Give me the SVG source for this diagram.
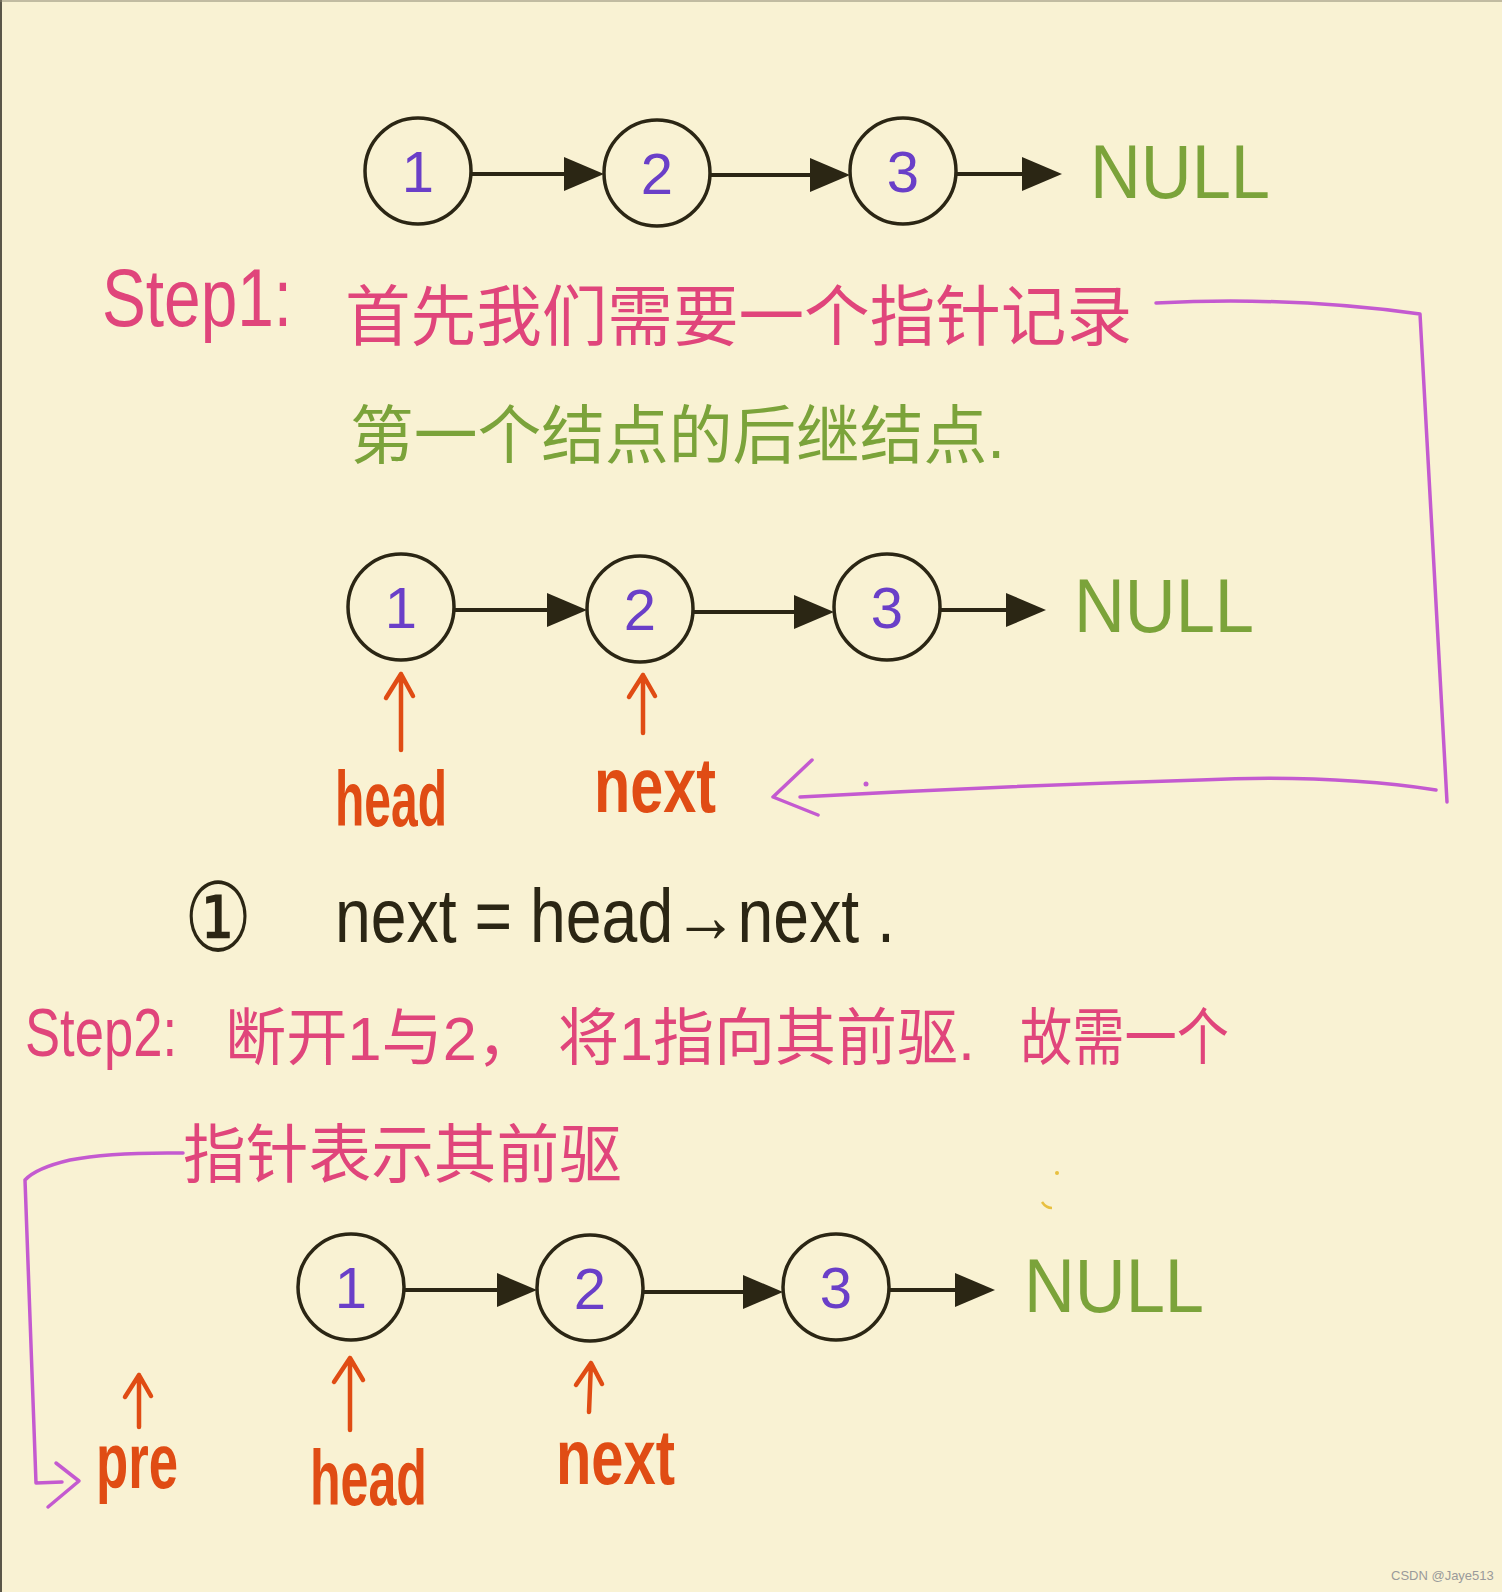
<svg xmlns="http://www.w3.org/2000/svg" width="1502" height="1592" viewBox="0 0 1502 1592">
<style>
.node{fill:none;stroke:#2b2614;stroke-width:3.5}
.num{font-family:"Liberation Sans",sans-serif;font-size:58px;fill:#6a3fc8;text-anchor:middle}
.null{font-family:"Liberation Sans",sans-serif;font-size:76px;fill:#7ba33a}
.link{stroke:#2b2614;stroke-width:4;fill:none}
.ptr{stroke:#e04c14;stroke-width:4.5;fill:none;stroke-linecap:round;stroke-linejoin:round}
.lbl{font-family:"Liberation Sans",sans-serif;font-size:78px;fill:#e04c14;font-weight:bold}
.pink{font-family:"Liberation Sans","Noto Sans CJK SC",sans-serif;fill:#e0457b}
.green{font-family:"Liberation Sans","Noto Sans CJK SC",sans-serif;fill:#7ba33a}
.blk{font-family:"Liberation Sans",sans-serif;fill:#2b2614}
.mag{stroke:#c45ad0;stroke-width:3.5;fill:none;stroke-linecap:round;stroke-linejoin:round}
</style>
<defs>
<marker id="tri" markerUnits="userSpaceOnUse" viewBox="0 0 40 34" markerWidth="40" markerHeight="34" refX="20" refY="17" orient="auto">
<path d="M0,0 L40,17 L0,34 z" fill="#2b2614"/>
</marker>
</defs>
<rect width="1502" height="1592" fill="#f9f2d3"/>
<line x1="1" y1="0" x2="1" y2="1592" stroke="#5a5648" stroke-width="2"/>
<line x1="0" y1="1" x2="1502" y2="1" stroke="#8a8570" stroke-width="1"/>

<!-- texts -->
<g id="step1">
<text class="pink" x="102" y="326" font-size="82" textLength="190" lengthAdjust="spacingAndGlyphs">Step1:</text>
<text class="pink" x="345" y="340" font-size="66" textLength="787" lengthAdjust="spacingAndGlyphs">首先我们需要一个指针记录</text>
<text class="green" x="350" y="458" font-size="64" textLength="655" lengthAdjust="spacingAndGlyphs">第一个结点的后继结点.</text>
</g>

<g id="formula">
<text class="blk" x="218" y="946" font-size="80" text-anchor="middle" transform="translate(218 919) scale(0.95 1.2) translate(-218 -919)">①</text>
<text class="blk" x="335" y="942" font-size="76" textLength="560" lengthAdjust="spacingAndGlyphs">next = head→next .</text>
</g>

<g id="step2">
<text class="pink" x="25" y="1056" font-size="68" textLength="152" lengthAdjust="spacingAndGlyphs">Step2:</text>
<text class="pink" x="225" y="1060" font-size="62" textLength="313" lengthAdjust="spacingAndGlyphs">断开1与2，</text>
<text class="pink" x="558" y="1060" font-size="62" textLength="417" lengthAdjust="spacingAndGlyphs">将1指向其前驱.</text>
<text class="pink" x="1020" y="1060" font-size="62" textLength="209" lengthAdjust="spacingAndGlyphs">故需一个</text>
<text class="pink" x="183" y="1177" font-size="64" textLength="439" lengthAdjust="spacingAndGlyphs">指针表示其前驱</text>
</g>

<!-- row 1 -->
<g id="r1n1"><circle class="node" cx="418" cy="171" r="53"/><text class="num" x="418" y="192">1</text></g>
<g id="r1n2"><circle class="node" cx="657" cy="173" r="53"/><text class="num" x="657" y="194">2</text></g>
<g id="r1n3"><circle class="node" cx="903" cy="171" r="53"/><text class="num" x="903" y="192">3</text></g>
<g id="r1null"><text class="null" x="1090" y="198" textLength="180" lengthAdjust="spacingAndGlyphs">NULL</text></g>

<!-- row 2 -->
<g id="r2n1"><circle class="node" cx="401" cy="607" r="53"/><text class="num" x="401" y="628">1</text></g>
<g id="r2n2"><circle class="node" cx="640" cy="609" r="53"/><text class="num" x="640" y="630">2</text></g>
<g id="r2n3"><circle class="node" cx="887" cy="607" r="53"/><text class="num" x="887" y="628">3</text></g>
<g id="r2null"><text class="null" x="1074" y="632" textLength="180" lengthAdjust="spacingAndGlyphs">NULL</text></g>
<g id="r2head"><text class="lbl" x="335" y="826" textLength="112" lengthAdjust="spacingAndGlyphs">head</text></g>
<g id="r2next"><text class="lbl" x="594" y="812" textLength="122" lengthAdjust="spacingAndGlyphs">next</text></g>

<!-- row 3 -->
<g id="r3n1"><circle class="node" cx="351" cy="1287" r="53"/><text class="num" x="351" y="1308">1</text></g>
<g id="r3n2"><circle class="node" cx="590" cy="1288" r="53"/><text class="num" x="590" y="1309">2</text></g>
<g id="r3n3"><circle class="node" cx="836" cy="1287" r="53"/><text class="num" x="836" y="1308">3</text></g>
<g id="r3null"><text class="null" x="1024" y="1312" textLength="180" lengthAdjust="spacingAndGlyphs">NULL</text></g>
<g id="r3pre"><text class="lbl" x="96" y="1488" textLength="82" lengthAdjust="spacingAndGlyphs">pre</text></g>
<g id="r3head"><text class="lbl" x="310" y="1505" textLength="117" lengthAdjust="spacingAndGlyphs">head</text></g>
<g id="r3next"><text class="lbl" x="556" y="1484" textLength="119" lengthAdjust="spacingAndGlyphs">next</text></g>

<g id="connectors">
<line class="link" x1="471" y1="174" x2="584" y2="174" marker-end="url(#tri)"/>
<line class="link" x1="710" y1="175" x2="830" y2="175" marker-end="url(#tri)"/>
<line class="link" x1="956" y1="174" x2="1042" y2="174" marker-end="url(#tri)"/>
<line class="link" x1="454" y1="610" x2="567" y2="610" marker-end="url(#tri)"/>
<line class="link" x1="693" y1="612" x2="814" y2="612" marker-end="url(#tri)"/>
<line class="link" x1="940" y1="610" x2="1026" y2="610" marker-end="url(#tri)"/>
<line class="link" x1="404" y1="1290" x2="517" y2="1290" marker-end="url(#tri)"/>
<line class="link" x1="643" y1="1292" x2="763" y2="1292" marker-end="url(#tri)"/>
<line class="link" x1="889" y1="1290" x2="975" y2="1290" marker-end="url(#tri)"/>
<path class="ptr" d="M401,750 L401,674 M386,698 L401,674 L413,696"/>
<path class="ptr" d="M643,733 L643,675 M629,697 L643,675 L655,696"/>
<path class="ptr" d="M139,1427 L139,1375 M125,1397 L139,1375 L151,1396"/>
<path class="ptr" d="M350,1430 L350,1358 M334,1382 L350,1358 L363,1380"/>
<path class="ptr" d="M589,1412 L591,1363 M576,1385 L591,1363 L602,1384"/>
<path class="mag" d="M1156,303 Q1290,296 1420,314 L1447,802"/>
<path class="mag" d="M1436,790 Q1330,774 1200,780 Q1000,786 800,797"/>
<path class="mag" d="M812,760 L773,797 L818,815"/>
<path class="mag" d="M183,1153 Q110,1152 70,1160 Q36,1168 25,1180 L36,1483 L62,1482"/>
<path class="mag" d="M56,1463 L79,1481 L48,1507"/>
<circle cx="866" cy="784" r="2.5" fill="#c45ad0"/>
<circle cx="1057" cy="1173" r="2" fill="#e8c040"/>
<path d="M1042,1202 Q1046,1208 1052,1208" stroke="#e8c040" stroke-width="2.5" fill="none"/>
</g>

<text x="1391" y="1580" font-family="Liberation Sans,sans-serif" font-size="13" fill="#9a9a9a">CSDN @Jaye513</text>
</svg>
